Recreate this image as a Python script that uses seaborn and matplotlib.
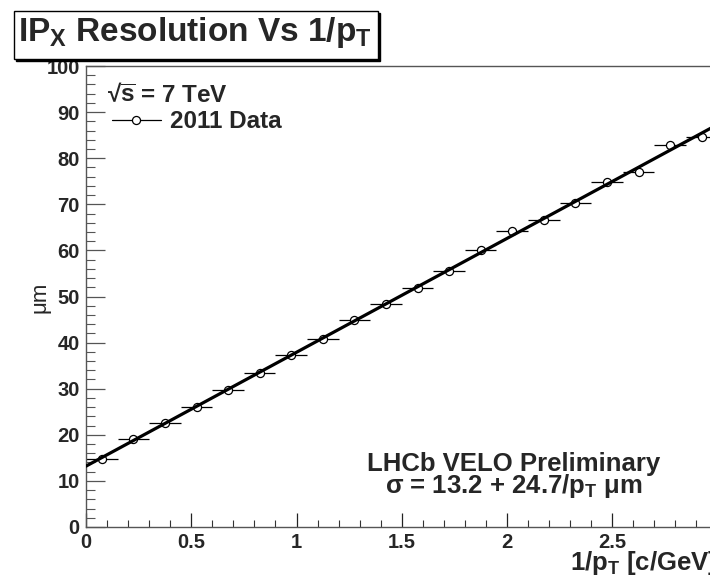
import numpy as np
import pandas as pd
import seaborn as sns
import matplotlib
matplotlib.use("Agg")
import matplotlib.pyplot as plt
from matplotlib.patches import Rectangle
from matplotlib.lines import Line2D
from matplotlib.ticker import MultipleLocator, FuncFormatter

# ---------------- data ----------------
inv_pt = [0.075, 0.225, 0.375, 0.525, 0.675, 0.825, 0.975, 1.125, 1.275, 1.425,
          1.575, 1.725, 1.875, 2.025, 2.175, 2.325, 2.475, 2.625, 2.775, 2.925]
ip_res = [14.8, 19.0, 22.6, 26.1, 29.8, 33.5, 37.3, 40.8, 44.9, 48.3,
          51.9, 55.6, 60.0, 64.3, 66.5, 70.2, 74.9, 77.1, 82.9, 84.7]
bin_halfwidth = [0.075] * len(inv_pt)
fit_intercept = 13.2
fit_slope = 24.7
fit_range = [0.0, 3.0]
x_ticks = [0, 0.5, 1, 1.5, 2, 2.5, 3]
y_ticks = [0, 10, 20, 30, 40, 50, 60, 70, 80, 90, 100]

df = pd.DataFrame({"x": inv_pt, "y": ip_res, "xerr": bin_halfwidth})
fit_df = pd.DataFrame({"x": fit_range,
                       "y": [fit_intercept + fit_slope * v for v in fit_range]})

# ---------------- style ----------------
sns.set_theme(style="white")
plt.rcParams["font.family"] = ["Liberation Sans", "DejaVu Sans"]
plt.rcParams["font.weight"] = "bold"
plt.rcParams["mathtext.fontset"] = "custom"
for k in ("rm", "it", "bf", "sf"):
    plt.rcParams["mathtext." + k] = "Liberation Sans:bold"

W, H = 710, 579
fig = plt.figure(figsize=(W / 100, H / 100), dpi=100)
fx = lambda px: px / W
fy = lambda py: 1 - py / H

ax = fig.add_axes([fx(86), fy(527), (717.5 - 86) / W, (527 - 66) / H])

ax.errorbar(df["x"], df["y"], xerr=df["xerr"], fmt="none", ecolor="black",
            elinewidth=0.9, capsize=0, zorder=2)
sns.scatterplot(data=df, x="x", y="y", ax=ax, marker="o", s=34,
                facecolor="white", edgecolor="black", linewidth=0.9, zorder=3)
sns.lineplot(data=fit_df, x="x", y="y", ax=ax, color="black", linewidth=2.3,
             zorder=4)

ax.set_xlim(0, 3.0)
ax.set_ylim(0, 100)
ax.set_xticks(x_ticks)
ax.set_yticks(y_ticks)
ax.xaxis.set_minor_locator(MultipleLocator(0.1))
ax.yaxis.set_minor_locator(MultipleLocator(2))
ax.xaxis.set_major_formatter(FuncFormatter(lambda v, p: "%g" % v))
ax.yaxis.set_major_formatter(FuncFormatter(lambda v, p: "%g" % v))
ax.set_xlabel("")
ax.set_ylabel("")

for s in ax.spines.values():
    s.set_color("#555555")
    s.set_linewidth(1.0)
ax.tick_params(axis="x", which="major", direction="in", length=10, width=0.9,
               color="#222222", pad=4.5, labelsize=14.5, top=False, bottom=True)
ax.tick_params(axis="x", which="minor", direction="in", length=5, width=0.8,
               color="#333333", top=False, bottom=True)
ax.tick_params(axis="y", which="major", direction="in", length=13.5, width=0.9,
               color="#555555", pad=4.5, labelsize=14.5, left=True, right=False)
ax.tick_params(axis="y", which="minor", direction="in", length=6.8, width=0.8,
               color="#555555", left=True, right=False)
for lab in ax.get_xticklabels() + ax.get_yticklabels():
    lab.set_fontweight("bold")

# axis titles
fig.text(fx(717), fy(570), r"1/p$_{T}$ [c/GeV]", ha="right", va="baseline",
         fontsize=18.5, fontweight="bold")
fig.text(fx(40), fy(297), "μm", rotation=90, ha="center", va="center",
         fontsize=16, fontweight="normal")

# title pave
t = fig.text(fx(18), fy(41), r"IP$_{X}$ Resolution Vs 1/p$_{T}$", ha="left",
             va="baseline", fontsize=24, fontweight="bold", zorder=5)
fig.canvas.draw()
bb = t.get_window_extent()
right_px = bb.x1 + 6
fig.patches.append(Rectangle((fx(16), fy(61)), (right_px - 14) / W, 48 / H,
                             transform=fig.transFigure, facecolor="black",
                             edgecolor="black", zorder=3))
fig.patches.append(Rectangle((fx(14), fy(59)), (right_px - 14) / W, 48 / H,
                             transform=fig.transFigure, facecolor="white",
                             edgecolor="black", linewidth=1.0, zorder=4))

# legend / labels
fig.text(fx(107), fy(102), r"√$\overline{\mathrm{s}}$ = 7 TeV", ha="left",
         va="baseline", fontsize=17.5, fontweight="bold")
handle = Line2D([], [], color="black", lw=0.9, marker="o", mfc="white",
                mec="black", ms=5.8, mew=0.9)
ax.legend(handles=[handle], labels=["2011 Data"], loc="center left",
          bbox_to_anchor=(fx(112), fy(122)), bbox_transform=fig.transFigure,
          frameon=False, borderpad=0, borderaxespad=0, handlelength=2.0,
          handletextpad=0.4, prop={"weight": "bold", "size": 17.5})

fig.text(fx(514), fy(471), "LHCb VELO Preliminary", ha="center",
         va="baseline", fontsize=18.5, fontweight="bold")
fig.text(fx(514), fy(493), r"σ = 13.2 + 24.7/p$_{T}$ μm", ha="center",
         va="baseline", fontsize=18.5, fontweight="bold")

fig.savefig("out.png", dpi=100)
